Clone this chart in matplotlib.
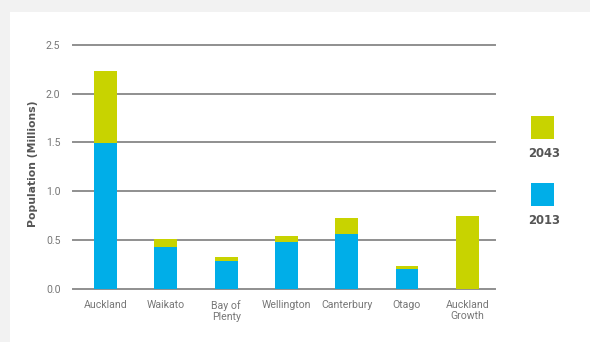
import matplotlib
matplotlib.use("Agg")
import matplotlib.pyplot as plt
from matplotlib.patches import Rectangle
import numpy as np

# Regional population, millions
regions = ["Auckland", "Waikato", "Bay of\nPlenty", "Wellington", "Canterbury", "Otago", "Auckland\nGrowth"]
pop_2013 = [1.49, 0.43, 0.28, 0.48, 0.56, 0.20, 0.0]
pop_2043 = [2.23, 0.51, 0.32, 0.54, 0.72, 0.23, 0.74]
y_ticks = [0.0, 0.5, 1.0, 1.5, 2.0, 2.5]
y_tick_labels = ["0.0", "0.5", "1.0", "1.5", "2.0", "2.5"]
series_labels = ["2043", "2013"]

GREEN = "#c8d300"
BLUE = "#00aee8"
GRID = "#8f8f8f"
TEXT = "#777777"

plt.rcParams["font.family"] = ["Roboto", "DejaVu Sans"]

W, H = 590, 342
fig = plt.figure(figsize=(W / 100, H / 100), dpi=100, facecolor="#f2f2f2")
fig.patches.append(Rectangle((10 / W, 0), 1, (H - 12) / H, transform=fig.transFigure,
                             facecolor="white", edgecolor="none", zorder=-10))

ax = fig.add_axes([73 / W, (H - 288.7) / H, 422 / W, 244 / H])
ax.set_facecolor("none")

x = np.arange(len(regions))
growth = np.array(pop_2043) - np.array(pop_2013)
width = 0.38
ax.bar(x, pop_2013, width, color=BLUE, zorder=3)
ax.bar(x, growth, width, bottom=pop_2013, color=GREEN, zorder=3)

for t in y_ticks:
    ax.axhline(t, color=GRID, lw=1.4, zorder=1, clip_on=False)

ax.set_xlim(-0.54, 6.46)
ax.set_ylim(0, 2.5)
ax.set_yticks(y_ticks)
ax.set_yticklabels(y_tick_labels)
ax.set_xticks(x)
ax.set_xticklabels(regions, linespacing=1.2)
ax.tick_params(axis="both", length=0, colors=TEXT, labelsize=7.6)
ax.tick_params(axis="y", pad=9)
ax.tick_params(axis="x", pad=8)
for s in ax.spines.values():
    s.set_visible(False)

fig.text(33 / W, 1 - 164 / H, "Population (Millions)", rotation=90, ha="center", va="center",
         fontsize=7.8, fontweight="bold", color="#555555", family="DejaVu Sans")

# Legend: coloured squares with year underneath
for color, label, top in [(GREEN, series_labels[0], 116), (BLUE, series_labels[1], 183)]:
    fig.patches.append(Rectangle((531 / W, 1 - (top + 23) / H), 23 / W, 23 / H,
                                 transform=fig.transFigure, facecolor=color, edgecolor="none"))
    fig.text(544 / W, 1 - (top + 37) / H, label, ha="center", va="center",
             fontsize=8.4, fontweight="bold", color="#555555", family="DejaVu Sans")

fig.savefig("out.png", dpi=100, facecolor=fig.get_facecolor())
